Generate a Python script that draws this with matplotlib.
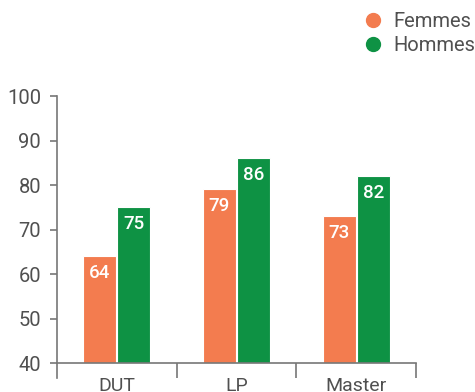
import matplotlib
matplotlib.use("agg")
from matplotlib import pyplot as plt
from matplotlib.lines import Line2D
import numpy as np

categories = ["DUT", "LP", "Master"]
femmes = [64, 79, 73]
hommes = [75, 86, 82]
series_names = ["Femmes", "Hommes"]
y_ticks = [40, 50, 60, 70, 80, 90, 100]

ORANGE = "#F37C4F"
GREEN = "#0E9244"
TEXT = "#505050"
AXIS = "#777777"

plt.rcParams["font.family"] = ["Roboto", "DejaVu Sans"]

fig = plt.figure(figsize=(4.75, 3.92), dpi=100)
ax = fig.add_axes([0.12, 0.0357, 0.7558, 0.7193])

base = 40
centers = np.arange(len(categories)) + 0.5
width = 0.275
off = 0.1425

for vals, color, dx in [(femmes, ORANGE, -off), (hommes, GREEN, off)]:
    bars = ax.bar(centers + dx, np.array(vals) - base, width=width, bottom=base,
                  color=color, edgecolor="white", linewidth=0.8)
    for b, v in zip(bars, vals):
        ax.annotate(str(v), (b.get_x() + b.get_width() / 2, v),
                    xytext=(0, -5.5), textcoords="offset points",
                    ha="center", va="top", color="white",
                    fontsize=13.5, fontweight="medium")

ax.set_xlim(0, len(categories))
ax.set_ylim(base - 15 / 4.45, 100)

for s in ["top", "right"]:
    ax.spines[s].set_visible(False)
ax.spines["bottom"].set_position(("data", base))
for s in ["left", "bottom"]:
    ax.spines[s].set_color(AXIS)
    ax.spines[s].set_linewidth(1.2)

ax.set_yticks(y_ticks)
ax.tick_params(axis="y", length=5, width=1.2, color=AXIS, labelsize=14.5,
               labelcolor=TEXT, pad=6.5)

ax.set_xticks(centers)
ax.set_xticklabels(categories)
ax.set_xticks([1, 2, 3], minor=True)
ax.tick_params(axis="x", which="major", length=0, labelsize=14,
               labelcolor=TEXT, pad=10)
ax.tick_params(axis="x", which="minor", length=10.8, width=1.2, color=AXIS)

handles = [Line2D([], [], marker="o", linestyle="", markersize=10,
                  color=c) for c in (ORANGE, GREEN)]
fig.legend(handles, series_names, loc="upper right", bbox_to_anchor=(1.025, 1.0),
           frameon=False, handletextpad=0.2, handlelength=1.6, labelspacing=0.25,
           labelcolor=TEXT, borderaxespad=0.2, prop={"size": 14.5})

fig.savefig("out.png", dpi=100)
